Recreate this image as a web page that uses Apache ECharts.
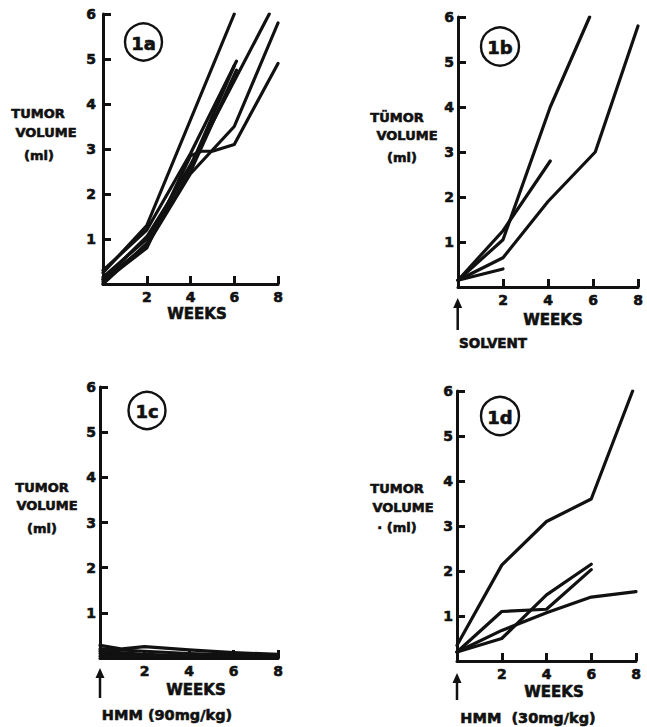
<!DOCTYPE html>
<html>
<head>
<meta charset="utf-8">
<script src="https://cdn.jsdelivr.net/npm/echarts@6/dist/echarts.min.js"></script>
<style>
html,body{margin:0;padding:0;background:#fff;}
#chart{width:647px;height:727px;}
</style>
</head>
<body>
<div id="chart"></div>
<script>
// ---- Data: [week, tumor volume (ml)] per animal ----
const xTicks = [0, 2, 4, 6, 8];
const yTicks = [0, 1, 2, 3, 4, 5, 6];

// Panel 1a (untreated)
const panelA = [
  [[0,0.25],[2,1.3],[4,3.65],[6,6.0]],
  [[0,0.15],[2,1.0],[4,2.65],[7.6,6.0]],
  [[0,0.1],[2,0.85],[4,2.45],[6,3.5],[8,5.8]],
  [[0,0.05],[2,0.8],[4,2.85],[4.5,2.95],[5.0,2.95],[6,3.1],[8,4.9]],
  [[0,0.3],[2,1.2],[4,2.9],[6.1,4.95]],
  [[0,0.1],[2,1.05],[4,2.6],[6,4.85]],
  [[0,0.0],[2,0.9],[4,2.5],[6.1,4.75]]
];
// Panel 1b (solvent)
const panelB = [
  [[0,0.15],[2,1.05],[4.1,4.0],[5.85,6.0]],
  [[0,0.15],[2,1.25],[4.1,2.8]],
  [[0,0.15],[2,0.65],[4,1.9],[6.1,3.0],[8,5.8]],
  [[0,0.15],[2,0.4]]
];
// Panel 1c (HMM 90 mg/kg)
const panelC = [
  [[0,0.28],[1,0.2],[2,0.25],[4,0.18],[6,0.12],[8,0.08]],
  [[0,0.2],[2,0.15],[4,0.1],[6,0.07],[8,0.05]],
  [[0,0.15],[2,0.08],[4,0.05],[6,0.03],[8,0.02]],
  [[0,0.1],[2,0.03],[4,0.02],[6,0.01],[8,0.0]],
  [[0,0.04],[2,0.04],[4,0.03],[6,0.02],[8,0.02]]
];
// Panel 1d (HMM 30 mg/kg)
const panelD = [
  [[0,0.35],[2,2.13],[4,3.1],[6,3.6],[7.85,6.0]],
  [[0,0.2],[2,1.1],[4,1.15],[6,2.03]],
  [[0,0.2],[2,0.5],[4,1.47],[6,2.15]],
  [[0,0.2],[2,0.68],[4,1.07],[6,1.42],[8,1.54]]
];

const panels = [panelA, panelB, panelC, panelD];

// ---- Layout ----
const grids = [
  {left:103, top:14, width:175, height:270},
  {left:458, top:17, width:180, height:270},
  {left:100, top:387, width:178, height:271},
  {left:457, top:391, width:179, height:270}
];
const yLabelMargin = [7, 4, 4, 4];
const FONT = '"DejaVu Sans", "Liberation Sans", sans-serif';
const black = '#111';

const labelStyle = {color:black, fontFamily:FONT, fontWeight:'bold', fontSize:14,
  textBorderColor:black, textBorderWidth:0.6};

const xAxes = grids.map((g,i)=>({
  type:'value', gridIndex:i, min:xTicks[0], max:xTicks[xTicks.length-1], interval:2,
  axisLine:{show:true, onZero:false, lineStyle:{color:black, width:3}},
  axisTick:{show:true, inside:true, length:8, lineStyle:{color:black, width:3}},
  axisLabel:Object.assign({margin:6, formatter:v=> v===0 ? '' : String(v)}, labelStyle),
  splitLine:{show:false}
}));
const yAxes = grids.map((g,i)=>({
  type:'value', gridIndex:i, min:yTicks[0], max:yTicks[yTicks.length-1], interval:1,
  axisLine:{show:true, onZero:false, lineStyle:{color:black, width:3}},
  axisTick:{show:true, inside:true, length:8, lineStyle:{color:black, width:3}},
  axisLabel:Object.assign({margin:yLabelMargin[i], formatter:v=> v===0 ? '' : String(v)}, labelStyle),
  splitLine:{show:false}
}));

const series = [];
panels.forEach((p,i)=>{
  p.forEach(d=>{
    series.push({type:'line', xAxisIndex:i, yAxisIndex:i, data:d, showSymbol:false,
      symbol:'none', silent:true, lineStyle:{color:black, width:3.2, join:'round', cap:'round'}});
  });
});

function txt(t, x, y, size){
  return {type:'text', x:0, y:0, style:{text:t, x:x, y:y, fill:black,
    stroke:black, lineWidth:0.6,
    font:'bold '+size+'px '+FONT, textAlign:'center', textVerticalAlign:'middle',
    align:'center', verticalAlign:'middle'}};
}
function circ(cx, cy, r, label){
  return [
    {type:'circle', shape:{cx:cx, cy:cy, r:r}, style:{fill:'#fff', stroke:black, lineWidth:2.4}},
    txt(label, cx, cy+1, 18)
  ];
}
function arrow(x, tip, bottom){
  return [
    {type:'line', shape:{x1:x, y1:tip+6, x2:x, y2:bottom}, style:{stroke:black, lineWidth:2.5}},
    {type:'polygon', shape:{points:[[x,tip],[x-4.5,tip+10],[x+4.5,tip+10]]}, style:{fill:black}}
  ];
}

const graphic = [].concat(
  // 1a
  circ(143.5, 42, 18.5, '1a'),
  [txt('TUMOR', 38, 113, 13), txt('VOLUME', 46, 132, 13), txt('(ml)', 39, 155, 13),
   txt('WEEKS', 197, 314, 15)],
  // 1b
  circ(500, 46.5, 19, '1b'),
  [txt('TÜMOR', 397, 117, 13), txt('VOLUME', 407, 135, 13), txt('(ml)', 402, 157, 13),
   txt('WEEKS', 553, 320, 15), txt('SOLVENT', 493, 343, 13.5)],
  arrow(457.7, 298, 330),
  // 1c
  circ(147, 410.5, 18.5, '1c'),
  [txt('TUMOR', 42, 487, 13), txt('VOLUME', 47, 505, 13), txt('(ml)', 42, 528, 13),
   txt('WEEKS', 196, 690, 15), txt('HMM (90mg/kg)', 167, 715, 14.5)],
  arrow(100, 668, 698),
  // 1d
  circ(500, 416, 19, '1d'),
  [txt('TUMOR', 397, 488, 13), txt('VOLUME', 403, 507, 13), txt('· (ml)', 397, 527, 13),
   txt('WEEKS', 554, 692, 15), txt('HMM  (30mg/kg)', 528, 718, 14.5)],
  arrow(457, 673, 700)
);

const chart = echarts.init(document.getElementById('chart'), null, {renderer:'svg', width:647, height:727});
chart.setOption({
  backgroundColor:'#fff',
  animation:false,
  grid:grids,
  xAxis:xAxes,
  yAxis:yAxes,
  series:series,
  graphic:graphic
});
</script>
</body>
</html>
